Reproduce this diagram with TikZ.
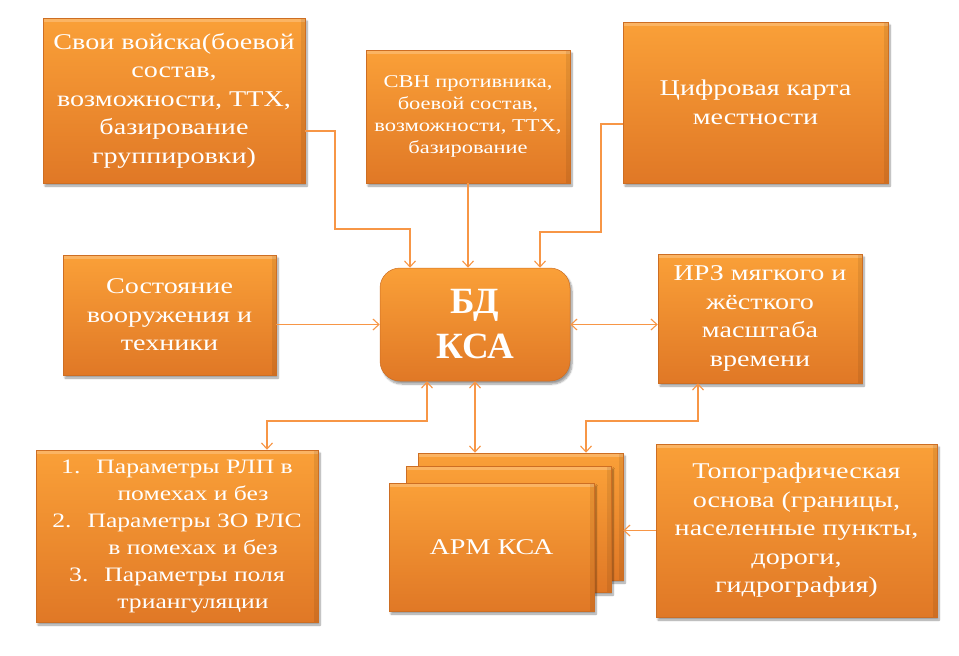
\documentclass[tikz,border=0pt]{standalone}
\usepackage{fontspec}
\setmainfont{Liberation Serif}[FakeStretch=1.25]
\newfontfamily\hubfont{Liberation Serif}
\usetikzlibrary{arrows.meta,shadows.blur}

\definecolor{lineor}{RGB}{247,150,70}
\definecolor{boxtop}{RGB}{250,160,56}
\definecolor{boxbot}{RGB}{224,120,38}
\definecolor{boxedge}{RGB}{205,110,35}

\tikzset{
  card/.style={rectangle, top color=boxtop, bottom color=boxbot,
    draw=boxedge, line width=0.5pt, text=white, align=center, inner sep=0pt,
    font=\fontsize{22.5}{28.5}\selectfont,
    blur shadow={shadow xshift=2pt, shadow yshift=-3pt,
      shadow blur steps=8, shadow opacity=40},
    path picture={
      \fill[white, opacity=0.22] (path picture bounding box.north west)
        rectangle ([yshift=-4pt]path picture bounding box.north east);
      \fill[black, opacity=0.08] ([xshift=-4pt]path picture bounding box.north east)
        rectangle (path picture bounding box.south east);
    }},
  hub/.style={card, rounded corners=20pt, path picture={},
    font=\hubfont\bfseries\fontsize{37}{45}\selectfont},
  tip/.tip={Straight Barb[length=6pt, width=11pt]},
  link/.style={draw=lineor, line width=1.1pt, -tip},
  twoway/.style={draw=lineor, line width=1.1pt, tip-tip},
}

\begin{document}
\begin{tikzpicture}[x=1pt, y=-1pt]
\useasboundingbox (0,0) rectangle (959,656);

% upper row of sources
\node[card, minimum width=262pt, minimum height=165pt] (own) at (174,100.5)
  {Свои войска(боевой\\состав,\\возможности, ТТХ,\\базирование\\группировки)};
\node[card, minimum width=204pt, minimum height=133pt,
      font=\fontsize{18}{22}\selectfont] (svn) at (468,116.5)
  {СВН противника,\\боевой состав,\\возможности, ТТХ,\\базирование};
\node[card, minimum width=265pt, minimum height=161pt] (map) at (755.5,102.5)
  {Цифровая карта\\местности};

% middle row
\node[card, minimum width=213pt, minimum height=120pt] (state) at (169.5,315)
  {Состояние\\вооружения и\\техники};
\node[hub, minimum width=190pt, minimum height=113pt] (bd) at (475,324.5)
  {БД\\КСА};
\node[card, minimum width=204pt, minimum height=129pt] (irz) at (760,318.5)
  {ИРЗ мягкого и\\жёсткого\\масштаба\\времени};

% lower row
\node[card, minimum width=282pt, minimum height=172pt,
      font=\fontsize{20.5}{27}\selectfont] (par) at (177,536)
  {1.\hspace{16pt}Параметры РЛП в\\\hspace*{32pt}помехах и без\\
   2.\hspace{16pt}Параметры ЗО РЛС\\\hspace*{32pt}в помехах и без\\
   3.\hspace{16pt}Параметры поля\\\hspace*{32pt}триангуляции};

\node[card, minimum width=205pt, minimum height=127pt] (armback) at (520.5,516.5) {};
\node[card, minimum width=205pt, minimum height=126pt] (armmid) at (508.5,529) {};
\node[card, minimum width=205pt, minimum height=128pt] (arm) at (491.5,547) {АРМ КСА};

\node[card, minimum width=281pt, minimum height=173pt] (topo) at (796.5,530.5)
  {Топографическая\\основа (границы,\\населенные пункты,\\дороги,\\гидрография)};

% bend points of the connectors
\coordinate (b1) at (335,229);
\coordinate (b2) at (601,232);
\coordinate (b3) at (267,421);
\coordinate (b4) at (586,421);

% inputs into the database
\draw[link] ([yshift=-30.5pt]own.east) -| (b1) -| ([xshift=-65pt]bd.north);
\draw[link] (svn.south) -- (svn.south |- bd.north);
\draw[link] ([yshift=-21.5pt]map.west) -| (b2) -| ([xshift=65pt]bd.north);
\draw[link] (bd.west -| state.east) -- (bd.west);
\draw[twoway] (bd.east) -- (bd.east -| irz.west);

% links below the database
\draw[twoway] ([xshift=-48pt]bd.south) |- (b3) -- (b3 |- par.north);
\draw[twoway] (bd.south) -- (bd.south |- armback.north);
\draw[twoway] ([xshift=-62pt]irz.south) |- (b4) -- (b4 |- armback.north);
\draw[link] (topo.west) -- (topo.west -| armback.east);
\end{tikzpicture}
\end{document}
